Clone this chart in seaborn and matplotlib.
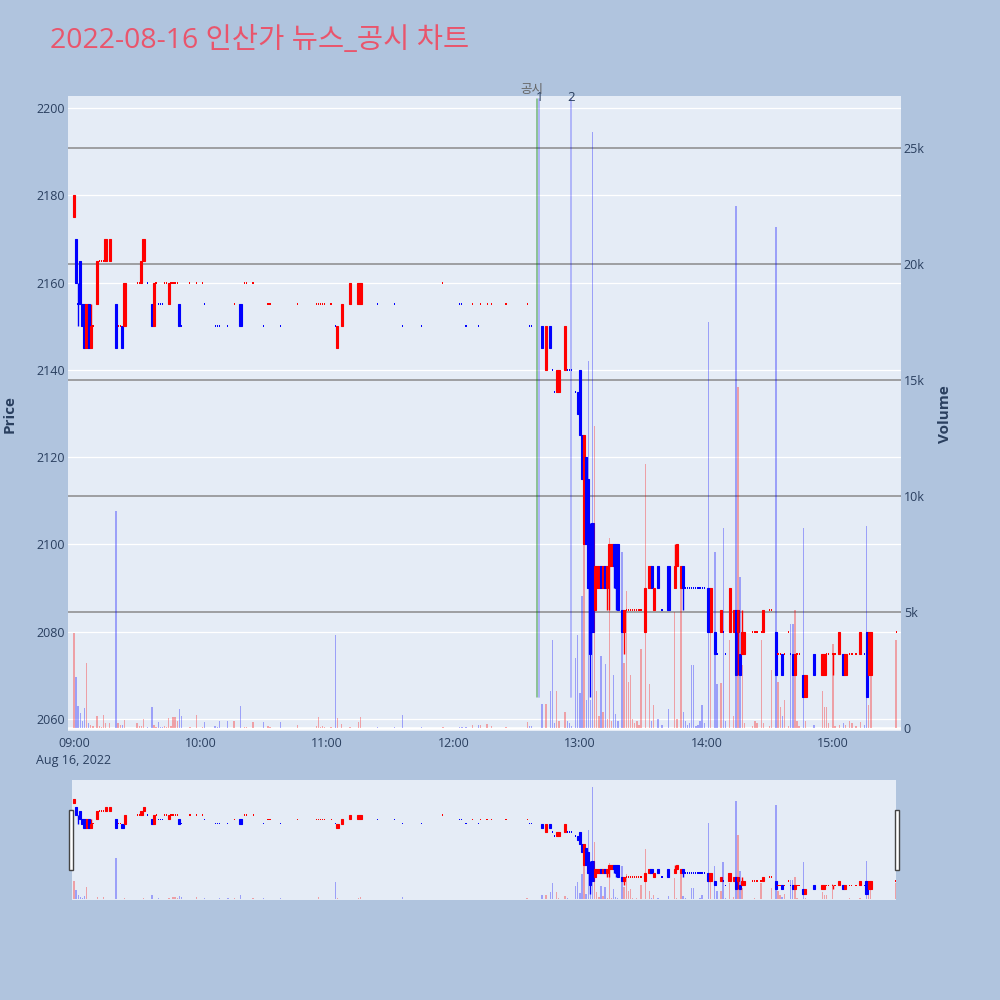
import numpy as np
import pandas as pd
import matplotlib
matplotlib.use("Agg")
import matplotlib.pyplot as plt
import seaborn as sns
from matplotlib.transforms import blended_transform_factory
from matplotlib.patches import Rectangle

# ---------------- data (minutes after 09:00) ----------------
minutes = [
    0, 1, 2, 3, 4, 5, 6, 7, 8, 9,
    11, 12, 13, 14, 15, 17, 20, 21, 22, 23,
    24, 30, 31, 32, 33, 35, 37, 38, 39, 40,
    41, 42, 43, 44, 45, 46, 47, 48, 49, 50,
    51, 55, 58, 61, 62, 67, 68, 69, 73, 76,
    79, 81, 82, 85, 90, 92, 93, 98, 106, 115,
    116, 117, 118, 119, 122, 124, 125, 127, 131, 135,
    136, 144, 152, 156, 165, 175, 183, 184, 186, 189,
    192, 193, 196, 198, 205, 215, 216, 217,
    222, 224, 226, 227, 228, 229, 230, 233, 234, 235,
    236, 238, 239, 240, 241, 242, 243, 244, 245, 246,
    247, 248, 249, 250, 251, 252, 253, 254, 255, 256,
    257, 258, 260, 261, 262, 263, 264, 265, 266, 267,
    268, 269, 271, 273, 274, 275, 277, 279, 282, 285,
    286, 288, 289, 290, 291, 292, 293, 294, 295, 296,
    297, 298, 299, 301, 302, 304, 305, 307, 308, 309,
    311, 313, 314, 315, 316, 317, 318, 322, 323, 324,
    326, 327, 330, 331, 333, 334, 335, 336, 337, 339,
    340, 341, 342, 343, 344, 346, 347, 351, 355, 356,
    357, 358, 360, 361, 363, 365, 366, 368, 369, 371,
    373, 375, 376, 377, 378, 390,
]
opens = [
    2175, 2170, 2155, 2165, 2155, 2155, 2145, 2155, 2145, 2150,
    2155, 2165, 2165, 2165, 2165, 2165, 2155, 2150, 2150, 2150,
    2150, 2160, 2160, 2160, 2165, 2160, 2155, 2150, 2160, 2155,
    2155, 2155, 2160, 2160, 2155, 2160, 2160, 2160, 2160, 2155,
    2150, 2160, 2160, 2160, 2155, 2150, 2150, 2150, 2150, 2155,
    2155, 2160, 2160, 2160, 2150, 2155, 2155, 2150, 2155, 2155,
    2155, 2155, 2155, 2155, 2155, 2150, 2145, 2150, 2155, 2155,
    2155, 2155, 2155, 2150, 2150, 2160, 2155, 2155, 2150, 2155,
    2150, 2155, 2155, 2155, 2155, 2155, 2150, 2150,
    2150, 2140, 2150, 2140, 2135, 2135, 2135, 2140, 2140, 2140,
    2140, 2135, 2135, 2140, 2125, 2100, 2120, 2115, 2090, 2105,
    2085, 2090, 2090, 2095, 2090, 2095, 2090, 2095, 2095, 2100,
    2100, 2100, 2085, 2080, 2085, 2085, 2085, 2085, 2085, 2085,
    2085, 2085, 2080, 2090, 2095, 2085, 2095, 2085, 2095, 2090,
    2095, 2090, 2095, 2090, 2090, 2090, 2090, 2090, 2090, 2090,
    2090, 2090, 2090, 2090, 2080, 2080, 2075, 2080, 2080, 2075,
    2080, 2080, 2085, 2080, 2075, 2075, 2075, 2080, 2080, 2080,
    2080, 2080, 2085, 2085, 2080, 2075, 2075, 2075, 2075, 2080,
    2075, 2075, 2070, 2075, 2075, 2070, 2065, 2075, 2070, 2070,
    2075, 2075, 2075, 2075, 2075, 2075, 2070, 2075, 2075, 2075,
    2075, 2075, 2080, 2070, 2070, 2080,
]
highs = [
    2180, 2170, 2160, 2165, 2155, 2155, 2155, 2155, 2155, 2150,
    2165, 2165, 2165, 2165, 2170, 2170, 2155, 2150, 2150, 2150,
    2160, 2160, 2160, 2165, 2170, 2160, 2155, 2160, 2160, 2155,
    2155, 2155, 2160, 2160, 2160, 2160, 2160, 2160, 2160, 2155,
    2150, 2160, 2160, 2160, 2155, 2150, 2150, 2150, 2150, 2155,
    2155, 2160, 2160, 2160, 2150, 2155, 2155, 2150, 2155, 2155,
    2155, 2155, 2155, 2155, 2155, 2150, 2150, 2155, 2160, 2160,
    2160, 2155, 2155, 2150, 2150, 2160, 2155, 2155, 2150, 2155,
    2150, 2155, 2155, 2155, 2155, 2155, 2150, 2150,
    2150, 2150, 2150, 2140, 2135, 2140, 2140, 2150, 2140, 2140,
    2140, 2135, 2135, 2140, 2125, 2125, 2120, 2115, 2105, 2105,
    2095, 2095, 2095, 2095, 2095, 2095, 2095, 2100, 2100, 2100,
    2100, 2100, 2085, 2085, 2085, 2085, 2085, 2085, 2085, 2085,
    2085, 2085, 2090, 2095, 2095, 2090, 2095, 2085, 2095, 2100,
    2100, 2095, 2095, 2090, 2090, 2090, 2090, 2090, 2090, 2090,
    2090, 2090, 2090, 2090, 2090, 2080, 2075, 2085, 2080, 2075,
    2090, 2085, 2085, 2085, 2075, 2085, 2080, 2080, 2080, 2080,
    2080, 2085, 2085, 2085, 2080, 2075, 2075, 2075, 2075, 2080,
    2075, 2075, 2075, 2075, 2075, 2070, 2070, 2075, 2075, 2075,
    2075, 2075, 2075, 2075, 2080, 2075, 2075, 2075, 2075, 2075,
    2080, 2075, 2080, 2080, 2080, 2080,
]
lows = [
    2175, 2160, 2150, 2155, 2150, 2145, 2145, 2145, 2145, 2150,
    2155, 2165, 2165, 2165, 2165, 2165, 2145, 2150, 2150, 2145,
    2150, 2160, 2160, 2160, 2165, 2160, 2150, 2150, 2160, 2155,
    2155, 2155, 2160, 2160, 2155, 2160, 2160, 2160, 2160, 2150,
    2150, 2160, 2160, 2160, 2155, 2150, 2150, 2150, 2150, 2155,
    2150, 2160, 2160, 2160, 2150, 2155, 2155, 2150, 2155, 2155,
    2155, 2155, 2155, 2155, 2155, 2150, 2145, 2150, 2155, 2155,
    2155, 2155, 2155, 2150, 2150, 2160, 2155, 2155, 2150, 2155,
    2150, 2155, 2155, 2155, 2155, 2155, 2150, 2150,
    2145, 2140, 2145, 2140, 2135, 2135, 2135, 2140, 2140, 2140,
    2140, 2135, 2130, 2125, 2115, 2100, 2100, 2090, 2065, 2080,
    2085, 2090, 2090, 2090, 2090, 2090, 2085, 2085, 2095, 2090,
    2085, 2085, 2080, 2075, 2085, 2085, 2085, 2085, 2085, 2085,
    2085, 2085, 2080, 2090, 2090, 2085, 2090, 2085, 2085, 2090,
    2095, 2090, 2085, 2090, 2090, 2090, 2090, 2090, 2090, 2090,
    2090, 2090, 2090, 2080, 2080, 2075, 2075, 2080, 2080, 2075,
    2080, 2080, 2070, 2070, 2070, 2075, 2075, 2080, 2080, 2080,
    2080, 2080, 2085, 2085, 2070, 2075, 2075, 2070, 2075, 2080,
    2075, 2070, 2070, 2075, 2075, 2065, 2065, 2070, 2070, 2070,
    2075, 2075, 2070, 2075, 2075, 2070, 2070, 2075, 2075, 2075,
    2075, 2075, 2065, 2070, 2070, 2080,
]
closes = [
    2180, 2160, 2155, 2155, 2150, 2145, 2155, 2145, 2150, 2150,
    2165, 2165, 2165, 2165, 2170, 2170, 2145, 2150, 2150, 2145,
    2160, 2160, 2160, 2165, 2170, 2160, 2150, 2160, 2160, 2155,
    2155, 2155, 2160, 2160, 2160, 2160, 2160, 2160, 2160, 2150,
    2150, 2160, 2160, 2160, 2155, 2150, 2150, 2150, 2150, 2155,
    2150, 2160, 2160, 2160, 2150, 2155, 2155, 2150, 2155, 2155,
    2155, 2155, 2155, 2155, 2155, 2150, 2150, 2155, 2160, 2160,
    2160, 2155, 2155, 2150, 2150, 2160, 2155, 2155, 2150, 2155,
    2150, 2155, 2155, 2155, 2155, 2155, 2150, 2150,
    2145, 2150, 2145, 2140, 2135, 2140, 2140, 2150, 2140, 2140,
    2140, 2135, 2130, 2125, 2115, 2125, 2100, 2090, 2075, 2080,
    2095, 2095, 2095, 2090, 2095, 2090, 2095, 2100, 2100, 2095,
    2090, 2085, 2080, 2085, 2085, 2085, 2085, 2085, 2085, 2085,
    2085, 2085, 2090, 2095, 2090, 2090, 2090, 2085, 2085, 2095,
    2100, 2095, 2090, 2090, 2090, 2090, 2090, 2090, 2090, 2090,
    2090, 2090, 2090, 2080, 2090, 2075, 2075, 2085, 2080, 2075,
    2090, 2085, 2070, 2085, 2070, 2080, 2080, 2080, 2080, 2080,
    2080, 2085, 2085, 2085, 2070, 2075, 2075, 2070, 2075, 2080,
    2075, 2070, 2075, 2075, 2075, 2065, 2070, 2070, 2075, 2075,
    2075, 2075, 2075, 2075, 2080, 2070, 2075, 2075, 2075, 2075,
    2080, 2075, 2065, 2080, 2080, 2080,
]
volumes = [
    4100, 2200, 950, 650, 300, 860, 2800, 200, 150, 100,
    520, 80, 60, 560, 200, 200, 9350, 200, 150, 120,
    340, 200, 80, 100, 390, 50, 900, 150, 60, 270,
    60, 40, 100, 60, 410, 80, 470, 470, 300, 810,
    520, 60, 560, 50, 240, 80, 60, 320, 300, 300,
    950, 60, 40, 250, 260, 100, 60, 280, 150, 100,
    470, 60, 80, 40, 40, 4000, 410, 180, 50, 250,
    470, 40, 40, 560, 40, 30, 50, 50, 40, 150,
    150, 150, 170, 100, 60, 250, 100, 80,
    1030, 1030, 1600, 3800, 200, 1600, 300, 690, 300, 200,
    100, 3000, 4000, 1500, 5700, 8000, 1200, 15800, 1200, 25700,
    13000, 1600, 500, 3100, 700, 2750, 400, 8200, 300, 2300,
    600, 300, 7600, 2800, 5900, 2000, 2300, 400, 200, 300,
    150, 3400, 11400, 1900, 300, 1000, 400, 150, 800, 5000,
    400, 6000, 700, 300, 150, 200, 2700, 2700, 100, 150,
    300, 1000, 200, 17500, 4200, 7600, 1900, 1950, 8600, 300,
    3800, 500, 22500, 14700, 6500, 2700, 200, 100, 300, 200,
    3800, 200, 100, 2500, 21600, 2000, 900, 500, 1200, 100,
    4500, 4500, 5100, 300, 100, 8600, 300, 150, 1600, 900,
    900, 200, 3600, 100, 150, 200, 150, 300, 200, 100,
    250, 150, 8700, 1000, 2300, 3800,
]

event_minutes = [219.6, 220.8, 235.8]
event_labels = ["공시", "1", "2"]

hour_ticks = [0, 60, 120, 180, 240, 300, 360]
hour_labels = ["09:00\nAug 16, 2022", "10:00", "11:00", "12:00", "13:00", "14:00", "15:00"]
price_ticks = [2060, 2080, 2100, 2120, 2140, 2160, 2180, 2200]
volume_ticks = [0, 5000, 10000, 15000, 20000, 25000]
volume_tick_labels = ["0", "5k", "10k", "15k", "20k", "25k"]

title = "2022-08-16 인산가 뉴스_공시 차트"

# ---------------- frame ----------------
df = pd.DataFrame({"m": minutes, "o": opens, "h": highs, "l": lows,
                   "c": closes, "v": volumes})

# direction like plotly: equal open/close -> compare with previous close
dirs = []
prev_c, prev_d = None, 1
for o, c in zip(df.o, df.c):
    if c > o:
        d = 1
    elif c < o:
        d = -1
    else:
        if prev_c is None or c > prev_c:
            d = 1
        elif c < prev_c:
            d = -1
        else:
            d = prev_d
    dirs.append(d)
    prev_c, prev_d = c, d
df["d"] = dirs

RED = "#FF0000"
BLUE = "#0000FF"
df["col"] = np.where(df.d > 0, RED, BLUE)

BG = "#B0C4DE"
PLOT_BG = "#E5ECF6"
TXT = "#2a3f5f"

sns.set_theme(style="white", rc={"axes.facecolor": PLOT_BG, "figure.facecolor": BG})
plt.rcParams["font.family"] = ["Open Sans", "Noto Sans CJK KR", "DejaVu Sans"]

fig = plt.figure(figsize=(10, 10), dpi=100)
fig.patch.set_facecolor(BG)

PRICE_LIM = (2057.25, 2202.75)
VOL_LIM = (-129, 27241)


def draw_candles(axp, axv, body_w, doji_w, wick_lw, edge_lw, doji_h, vol_w):
    axp.vlines(df.m, df.l, df.h, colors=df.col, lw=wick_lw, zorder=2)
    lo = np.minimum(df.o, df.c).astype(float)
    hi = np.maximum(df.o, df.c).astype(float)
    body = df[hi > lo]
    blo = lo[hi > lo]
    bhi = hi[hi > lo]
    axp.bar(body.m, bhi - blo, bottom=blo, width=body_w, color=body.col,
            edgecolor=body.col, lw=edge_lw, zorder=2.5)
    flat = df[hi == lo]
    axp.bar(flat.m, doji_h, bottom=flat.c - doji_h / 2, width=doji_w,
            color=flat.col, lw=0, zorder=2.5)
    axv.bar(df.m, df.v, width=vol_w, color=df.col, alpha=0.32, lw=0, zorder=3)


# ---------------- main chart ----------------
ax = fig.add_axes([0.068, 0.269, 0.833, 0.635])
ax.set_facecolor(PLOT_BG)
axv = ax.twinx()
ax.set_xlim(-2.8, 392.3)
ax.set_ylim(*PRICE_LIM)
axv.set_ylim(*VOL_LIM)

for sp in list(ax.spines.values()) + list(axv.spines.values()):
    sp.set_visible(False)
ax.grid(False)
axv.grid(False)

# price grid (white)
for p in price_ticks:
    ax.axhline(p, color="white", lw=0.9, zorder=0.6)
# volume grid (gray) on the price axes so it stays below the candles
vtrans = blended_transform_factory(ax.transAxes, axv.transData)
for v in volume_ticks[1:]:
    ax.plot([0, 1], [v, v], transform=vtrans, color="#8a8a8a", lw=1.1, zorder=0.7)
ax.plot([0, 1], [0, 0], transform=vtrans, color="white", lw=1.8, zorder=0.8)

draw_candles(ax, axv, body_w=1.0, doji_w=0.6, wick_lw=1.0, edge_lw=0.8,
             doji_h=0.45, vol_w=0.65)

# event lines
etrans = blended_transform_factory(ax.transData, ax.transAxes)
ax.axvline(event_minutes[0], ymin=0.053, ymax=0.995, color="green", alpha=0.5, lw=1.1, zorder=3)
ax.axvline(event_minutes[1], ymin=0.053, ymax=0.995, color=BLUE, alpha=0.25, lw=1.3, zorder=3)
ax.axvline(event_minutes[2], ymin=0.053, ymax=0.995, color=BLUE, alpha=0.25, lw=1.3, zorder=3)
ax.text(event_minutes[0] - 2.6, 1.010, event_labels[0], transform=etrans, ha="center",
        va="center", fontsize=9, color="#666666", clip_on=False)
ax.text(event_minutes[1], 0.997, event_labels[1], transform=etrans, ha="center",
        va="center", fontsize=9.5, color=TXT, clip_on=False, zorder=5)
ax.text(event_minutes[2], 0.997, event_labels[2], transform=etrans, ha="center",
        va="center", fontsize=9.5, color=TXT, clip_on=False, zorder=5)

ax.set_yticks(price_ticks)
ax.set_yticklabels([str(p) for p in price_ticks])
ax.tick_params(axis="y", length=0, pad=2, labelsize=9, labelcolor=TXT)
axv.set_yticks(volume_ticks)
axv.set_yticklabels(volume_tick_labels)
axv.tick_params(axis="y", length=0, pad=2, labelsize=9, labelcolor=TXT)
ax.set_xticks(hour_ticks)
ax.set_xticklabels(hour_labels)
ax.tick_params(axis="x", length=0, pad=4, labelsize=9, labelcolor=TXT)
for t in ax.get_xticklabels():
    t.set_linespacing(1.45)

# ---------------- range slider ----------------
axs = fig.add_axes([0.072, 0.100, 0.824, 0.120])
axs.set_facecolor(PLOT_BG)
axsv = axs.twinx()
axs.set_xlim(-0.95, 390.0)
axs.set_ylim(*PRICE_LIM)
axsv.set_ylim(*VOL_LIM)
for a in (axs, axsv):
    for sp in a.spines.values():
        sp.set_visible(False)
    a.set_xticks([])
    a.set_yticks([])
    a.grid(False)
draw_candles(axs, axsv, body_w=1.0, doji_w=0.6, wick_lw=1.0, edge_lw=0.8,
             doji_h=2.0, vol_w=0.65)

for x0 in (0.069, 0.895):
    fig.patches.append(Rectangle((x0, 0.130), 0.004, 0.060, transform=fig.transFigure,
                                 facecolor="white", edgecolor="#444444", lw=1))

# ---------------- titles ----------------
fig.text(0.05, 0.9595, title, fontsize=20.5, color="#E9556C", ha="left", va="center")
fig.text(0.010, 0.586, "Price", rotation=90, fontsize=11, fontweight="bold",
         color=TXT, ha="center", va="center")
fig.text(0.945, 0.586, "Volume", rotation=90, fontsize=11, fontweight="bold",
         color=TXT, ha="center", va="center")

fig.savefig("out.png", dpi=100, facecolor=BG)
